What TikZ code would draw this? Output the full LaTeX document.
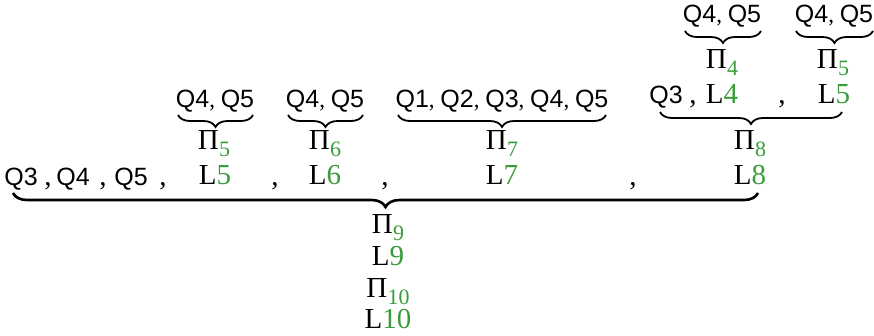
\documentclass[tikz,border=0pt]{standalone}
\usepackage{fontspec}
\setmainfont{Liberation Serif}
\newfontfamily\qfont{Liberation Sans}
\usetikzlibrary{decorations.pathreplacing}
\definecolor{lg}{RGB}{58,156,58}
% Pi with a green lowered index, and L with a green number
\newcommand\Pidx[1]{Π\kern0.5pt\smash{\raisebox{-7.5pt}{\fontsize{22}{22}\selectfont\color{lg}#1}}}
\newcommand\Lnum[1]{L\textcolor{lg}{#1}}
\newcommand\qq[1]{{\qfont\fontsize{25}{25}\selectfont Q#1}}
\tikzset{
  lbl/.style={anchor=base, inner sep=0pt, font=\fontsize{29}{29}\selectfont},
  qlist/.style={anchor=base, inner sep=0pt, font=\fontsize{23}{23}\selectfont},
  ubrace/.style={decorate, decoration={brace, amplitude=12pt}, line width=1.8pt},
  bigbrace/.style={decorate, decoration={brace, amplitude=14pt}, line width=2.6pt},
}
\begin{document}
\begin{tikzpicture}[x=1pt, y=-1pt]
\useasboundingbox (0,0) rectangle (874,335);

% top level: Pi_4 and Pi_5 on the right
\node[qlist] (t1) at (722,22) {\qq4, \qq5};
\node[qlist] (t2) at (834,22) {\qq4, \qq5};
\draw[ubrace] (761,31) -- (685,31);
\draw[ubrace] (873,31) -- (796,31);
\node[lbl] (p4) at (722,68) {\Pidx4};
\node[lbl] (p5r) at (833,68) {\Pidx5};

% second level, right group
\node[lbl] (r2q3) at (666,103) {\qq3};
\node[lbl] (r2c1) at (693,103) {,};
\node[lbl] (r2l4) at (722,103) {\Lnum4};
\node[lbl] (r2c2) at (782,103) {,};
\node[lbl] (r2l5) at (834,103) {\Lnum5};
\draw[ubrace] (842,112) -- (660,112);

% second level, left groups
\node[qlist] (m1) at (215,107) {\qq4, \qq5};
\node[qlist] (m2) at (325,107) {\qq4, \qq5};
\node[qlist] (m3) at (502,107) {\qq1, \qq2, \qq3, \qq4, \qq5};
\draw[ubrace] (253,115) -- (178,115);
\draw[ubrace] (363,115) -- (288,115);
\draw[ubrace] (606,115) -- (398,115);

% Pi row
\node[lbl] (p5) at (214,149) {\Pidx5};
\node[lbl] (p6) at (325,149) {\Pidx6};
\node[lbl] (p7) at (502,149) {\Pidx7};
\node[lbl] (p8) at (750,149) {\Pidx8};

% bottom sequence
\node[lbl] (b1) at (21,185) {\qq3};
\node[lbl] (b2) at (48,185) {,};
\node[lbl] (b3) at (73,185) {\qq4};
\node[lbl] (b4) at (103,185) {,};
\node[lbl] (b5) at (131,185) {\qq5};
\node[lbl] (b6) at (163,185) {,};
\node[lbl] (b7) at (215,184) {\Lnum5};
\node[lbl] (b8) at (275,185) {,};
\node[lbl] (b9) at (325,184) {\Lnum6};
\node[lbl] (b10) at (385,185) {,};
\node[lbl] (b11) at (502,184) {\Lnum7};
\node[lbl] (b12) at (633,185) {,};
\node[lbl] (b13) at (750,184) {\Lnum8};
\draw[bigbrace] (758,193) -- (13,193);

% result stack
\node[lbl] (p9) at (388,233) {\Pidx9};
\node[lbl] (l9) at (388,265) {\Lnum9};
\node[lbl] (p10) at (388,297) {\Pidx{10}};
\node[lbl] (l10) at (388,328) {\Lnum{10}};
\end{tikzpicture}
\end{document}
